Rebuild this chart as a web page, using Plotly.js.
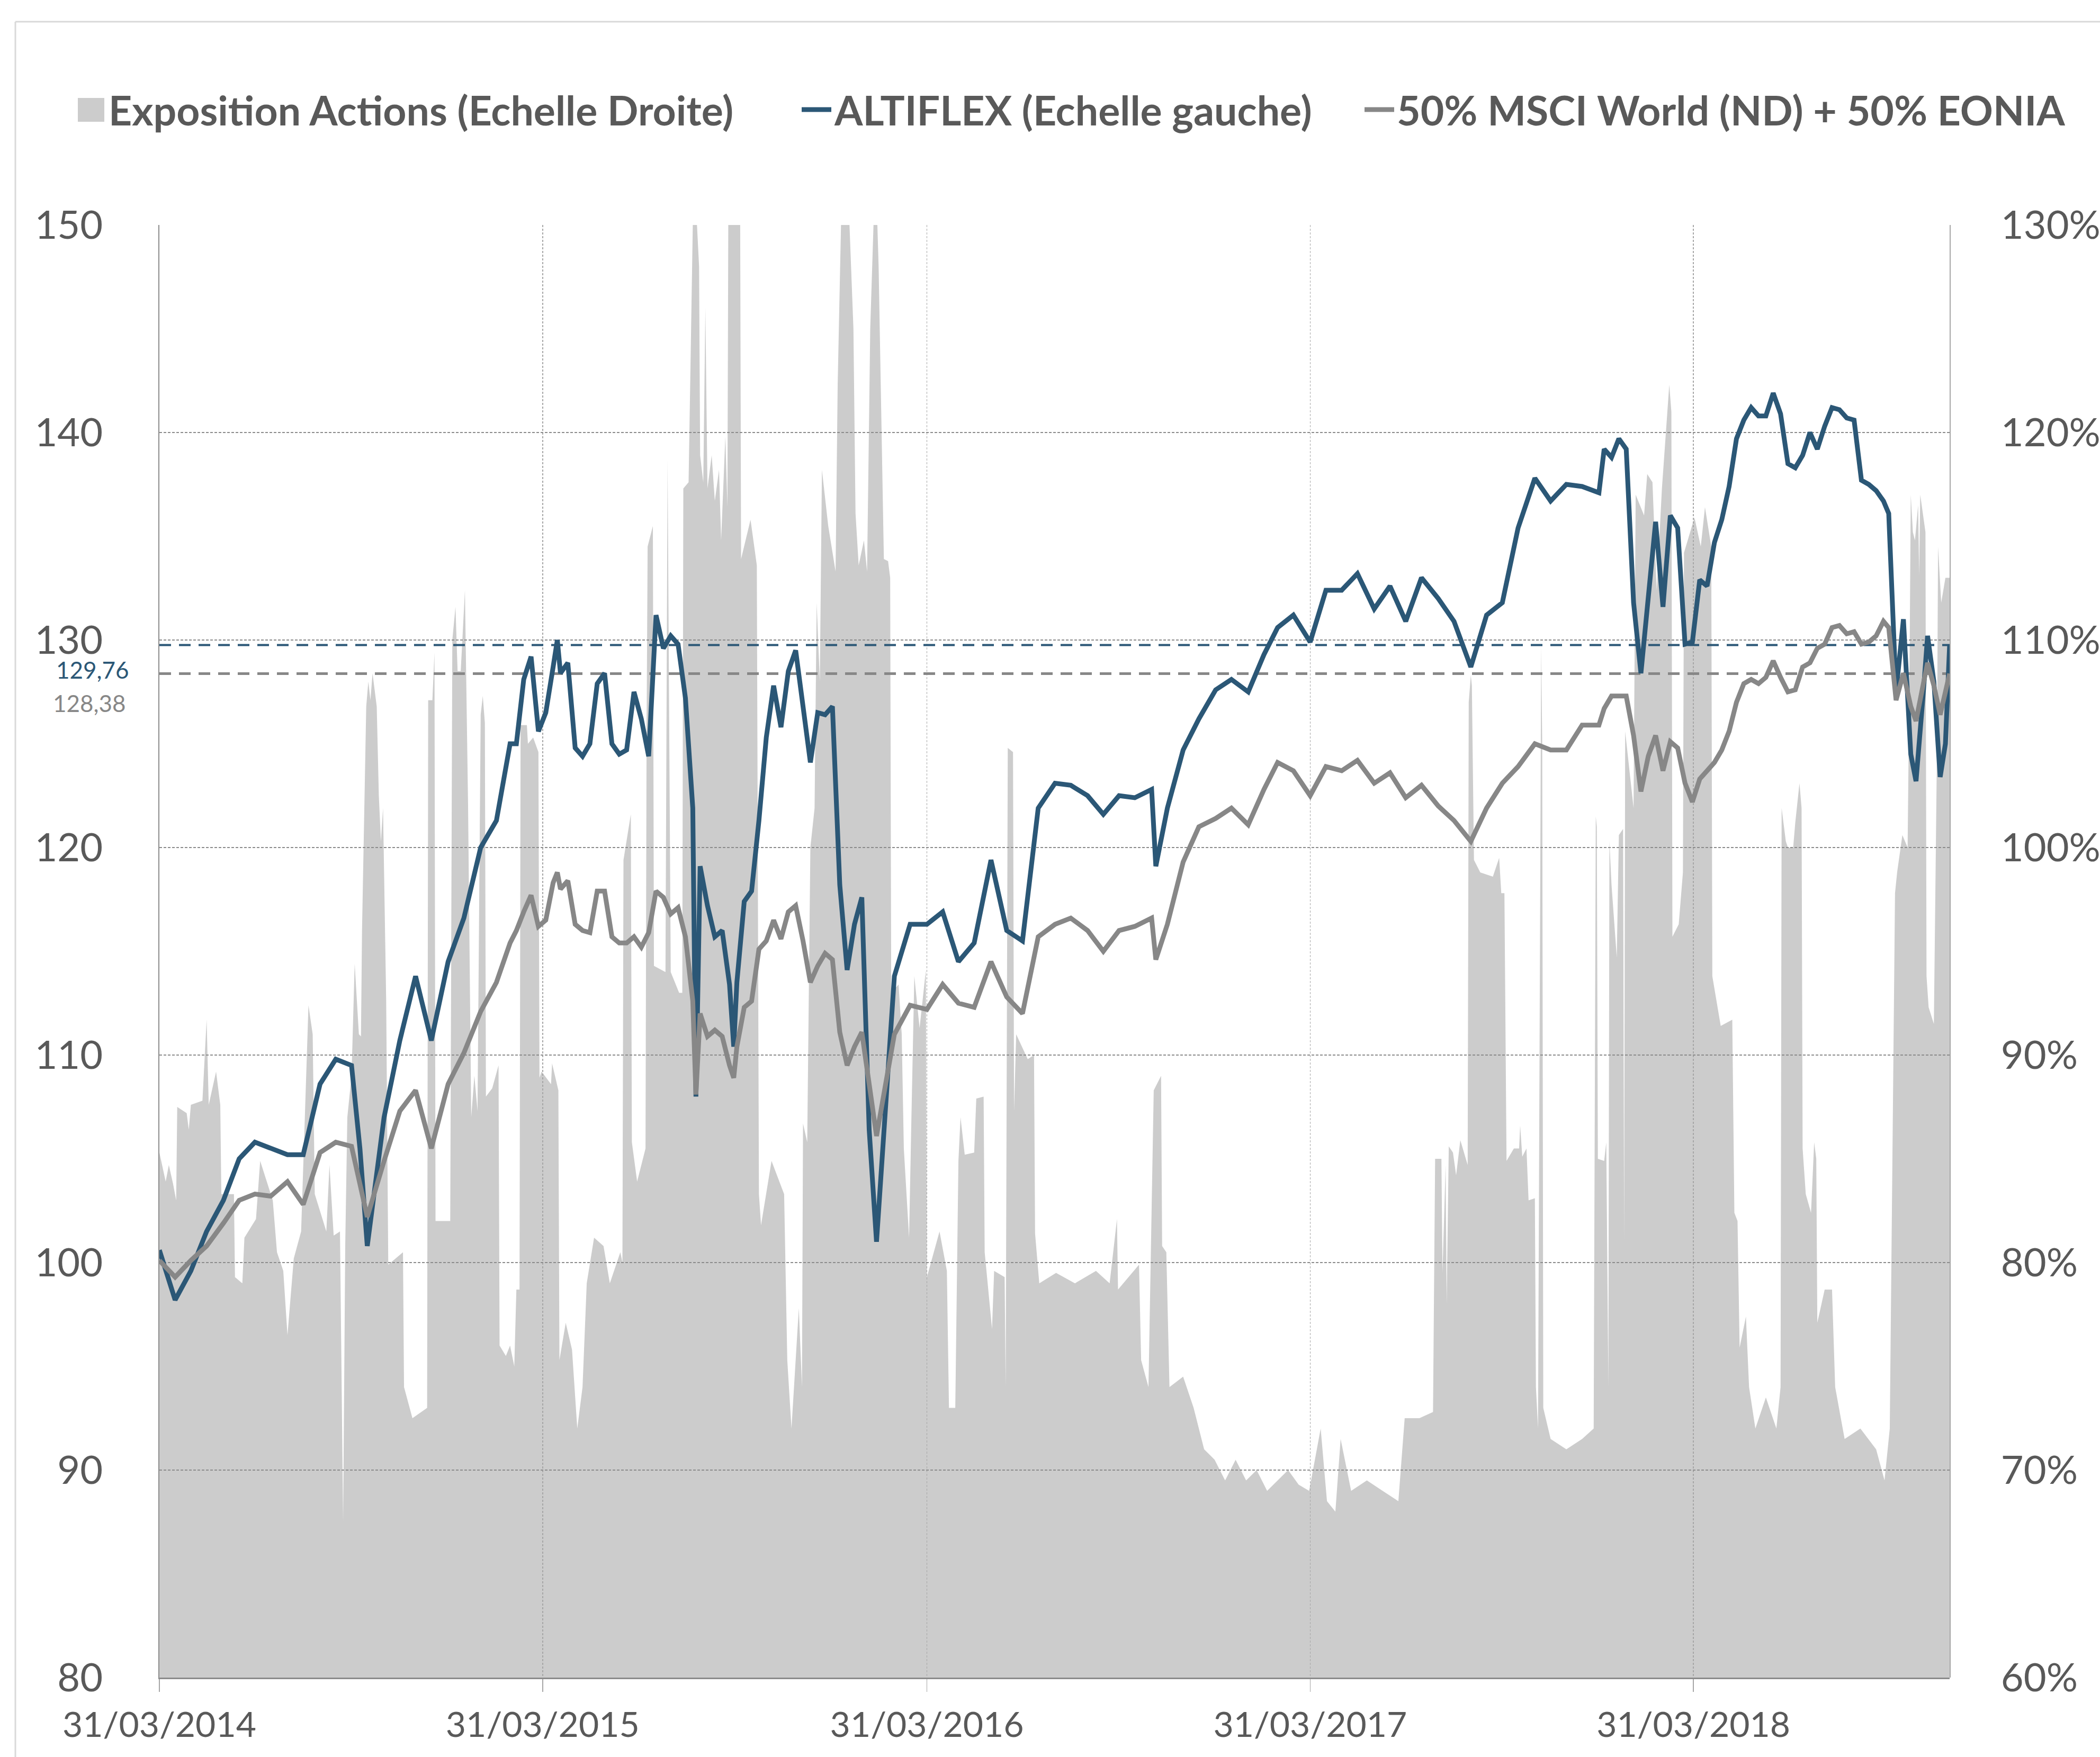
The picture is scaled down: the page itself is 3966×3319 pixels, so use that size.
<!DOCTYPE html>
<html><head><meta charset="utf-8">
<script src="https://cdn.plot.ly/plotly-3.0.1.min.js"></script>
<style>html,body{margin:0;padding:0;background:#fff;} #chart{width:3966px;height:3319px;}</style>
</head><body><div id="chart"></div>
<script>
// ---------------- DATA ----------------
const seriesNames = ['Exposition Actions (Echelle Droite)', 'ALTIFLEX (Echelle gauche)', '50% MSCI World (ND) + 50% EONIA'];

const lineDates = ['2014-03-31','2014-04-15','2014-04-30','2014-05-15','2014-05-31','2014-06-15','2014-06-30','2014-07-15','2014-07-31','2014-08-15','2014-08-31','2014-09-15','2014-09-30','2014-10-08','2014-10-15','2014-10-31','2014-11-15','2014-11-30','2014-12-15','2014-12-31',
'2015-01-15','2015-01-31','2015-02-15','2015-02-28',
'2015-03-06','2015-03-13','2015-03-20','2015-03-27','2015-04-03','2015-04-10','2015-04-14','2015-04-17','2015-04-24','2015-05-01','2015-05-08','2015-05-15','2015-05-22','2015-05-29','2015-06-05','2015-06-12','2015-06-19','2015-06-26','2015-07-03','2015-07-10','2015-07-17','2015-07-24','2015-07-31','2015-08-07','2015-08-14','2015-08-21','2015-08-24','2015-08-28','2015-09-04','2015-09-11','2015-09-18','2015-09-25','2015-09-29','2015-10-02','2015-10-09','2015-10-16','2015-10-23','2015-10-30','2015-11-06','2015-11-13','2015-11-20','2015-11-27','2015-12-04','2015-12-11','2015-12-18','2015-12-25',
'2016-01-01','2016-01-08','2016-01-15','2016-01-22','2016-01-29','2016-02-05','2016-02-12',
'2016-02-29','2016-03-15','2016-03-31','2016-04-15','2016-04-30','2016-05-15','2016-05-31','2016-06-15','2016-06-30','2016-07-15','2016-07-31','2016-08-15','2016-08-31','2016-09-15','2016-09-30','2016-10-15','2016-10-31','2016-11-04','2016-11-15','2016-11-30','2016-12-15','2016-12-31',
'2017-01-15','2017-01-31','2017-02-15','2017-02-28','2017-03-15','2017-03-31','2017-04-15','2017-04-30','2017-05-15','2017-05-31','2017-06-15','2017-06-30','2017-07-15','2017-07-31','2017-08-15','2017-08-31','2017-09-15','2017-09-30','2017-10-15','2017-10-31','2017-11-15','2017-11-30','2017-12-15','2017-12-31',
'2018-01-05','2018-01-12','2018-01-19','2018-01-26','2018-02-02','2018-02-09','2018-02-16','2018-02-23','2018-03-02','2018-03-09','2018-03-16','2018-03-23','2018-03-30','2018-04-06','2018-04-13','2018-04-20','2018-04-27','2018-05-04','2018-05-11','2018-05-18','2018-05-25','2018-06-01','2018-06-08','2018-06-15','2018-06-22','2018-06-29','2018-07-06','2018-07-13','2018-07-20','2018-07-27','2018-08-03','2018-08-10','2018-08-17','2018-08-24','2018-08-31','2018-09-07','2018-09-14','2018-09-21','2018-09-28',
'2018-10-03','2018-10-10','2018-10-17','2018-10-24','2018-10-29','2018-11-05','2018-11-09','2018-11-15','2018-11-21','2018-11-26','2018-11-30'];

const altiflex = [100.6,98.2,99.6,101.5,103.0,105.0,105.8,105.5,105.2,105.2,108.6,109.8,109.5,105.5,100.8,107.0,110.7,113.8,110.7,114.5,
116.6,120.0,121.3,125.0,
125.0,128.1,129.2,125.6,126.5,128.7,130.0,128.4,128.9,124.8,124.4,125.0,127.9,128.4,125.0,124.5,124.7,127.5,126.2,124.4,131.2,129.6,130.2,129.8,127.2,121.9,108.0,119.1,117.2,115.7,116.0,113.4,110.4,113.5,117.4,117.9,121.3,125.3,127.8,125.8,128.5,129.5,127.0,124.1,126.5,126.4,
126.8,118.2,114.1,116.3,117.6,106.4,101.0,
113.8,116.3,116.3,116.9,114.5,115.4,119.4,116.0,115.5,121.9,123.1,123.0,122.5,121.6,122.5,122.4,122.8,119.1,121.9,124.7,126.2,127.6,
128.1,127.5,129.3,130.6,131.2,129.9,132.4,132.4,133.2,131.5,132.6,130.9,133.0,132.0,130.9,128.7,131.2,131.8,135.4,137.8,136.7,137.5,137.4,137.1,
139.2,138.8,139.7,139.2,131.8,128.4,132.1,135.7,131.6,136.0,135.4,129.8,129.9,132.9,132.6,134.7,135.8,137.4,139.7,140.6,141.2,140.8,140.8,141.9,140.9,138.5,138.3,138.9,140.0,139.2,140.3,141.2,141.1,140.7,140.6,137.7,137.5,137.2,136.7,
136.1,127.5,131.0,124.5,123.2,127.5,130.2,128.0,123.4,125.0,129.76];

const benchmark = [100.1,99.3,100.1,100.8,101.9,103.0,103.3,103.2,103.9,102.8,105.3,105.8,105.6,103.9,102.2,104.9,107.3,108.3,105.5,108.6,
110.1,112.1,113.5,115.4,
116.0,116.9,117.7,116.2,116.5,118.3,118.8,118.0,118.4,116.3,116.0,115.9,117.9,117.9,115.7,115.4,115.4,115.7,115.2,115.9,117.9,117.6,116.8,117.1,115.7,112.6,108.1,112.0,110.9,111.2,110.9,109.5,108.9,110.4,112.3,112.6,115.1,115.5,116.5,115.6,116.9,117.2,115.5,113.5,114.3,114.9,
114.6,111.1,109.5,110.4,111.1,108.6,106.1,
111.0,112.4,112.2,113.4,112.5,112.3,114.5,112.8,112.0,115.7,116.3,116.6,116.0,115.0,116.0,116.2,116.6,114.6,116.3,119.3,121.0,121.4,
121.9,121.1,122.8,124.1,123.7,122.5,123.9,123.7,124.2,123.1,123.6,122.4,123.0,122.0,121.3,120.3,121.9,123.1,123.9,125.0,124.7,124.7,125.9,125.9,
126.7,127.3,127.3,127.3,125.4,122.7,124.4,125.4,123.7,125.1,124.8,123.1,122.2,123.3,123.7,124.1,124.7,125.6,127.0,127.9,128.1,127.9,128.2,129.0,128.2,127.5,127.6,128.7,128.9,129.6,129.8,130.6,130.7,130.3,130.4,129.8,129.9,130.2,130.9,
130.6,127.1,128.4,126.8,126.1,127.9,128.9,127.8,126.4,127.5,128.38];

const expoDates = ['2014-03-31','2014-04-06','2014-04-09','2014-04-13','2014-04-16','2014-04-17','2014-04-26','2014-04-28','2014-04-30','2014-05-11','2014-05-15','2014-05-17','2014-05-24','2014-05-28','2014-05-29','2014-06-10','2014-06-11','2014-06-18','2014-06-20','2014-07-01','2014-07-05','2014-07-17','2014-07-21','2014-07-27','2014-07-31','2014-08-06','2014-08-13','2014-08-17','2014-08-20','2014-08-24','2014-08-26','2014-09-06','2014-09-09','2014-09-13','2014-09-19','2014-09-22','2014-09-24','2014-09-26','2014-09-30','2014-10-03','2014-10-07','2014-10-09','2014-10-10','2014-10-14','2014-10-16','2014-10-18','2014-10-20','2014-10-24','2014-10-26','2014-10-28','2014-10-30','2014-11-02','2014-11-04','2014-11-18','2014-11-19','2014-11-27','2014-12-11','2014-12-12','2014-12-16','2014-12-18','2014-12-19',
'2015-01-02','2015-01-04','2015-01-07','2015-01-09','2015-01-12','2015-01-16','2015-01-19','2015-01-22','2015-01-25','2015-01-28','2015-01-31','2015-02-02','2015-02-04','2015-02-05','2015-02-11','2015-02-17','2015-02-18','2015-02-24','2015-02-28','2015-03-04','2015-03-06','2015-03-09','2015-03-10','2015-03-16','2015-03-17','2015-03-22','2015-03-27','2015-03-28','2015-03-30','2015-04-08','2015-04-09','2015-04-15','2015-04-16','2015-04-22','2015-04-28','2015-05-03','2015-05-08','2015-05-12','2015-05-19','2015-05-28','2015-06-03','2015-06-13','2015-06-15','2015-06-16','2015-06-23','2015-06-24','2015-06-29','2015-07-07','2015-07-08','2015-07-09','2015-07-14','2015-07-15','2015-07-26','2015-07-28','2015-07-31','2015-08-08','2015-08-11','2015-08-12','2015-08-17','2015-08-22','2015-08-27','2015-08-28','2015-08-31','2015-09-02','2015-09-04','2015-09-08','2015-09-11','2015-09-15','2015-09-17','2015-09-21','2015-09-23','2015-09-24','2015-10-05','2015-10-06','2015-10-15','2015-10-21','2015-10-23','2015-10-25','2015-11-04','2015-11-16','2015-11-19','2015-11-23','2015-11-30','2015-12-03','2015-12-04','2015-12-08','2015-12-11','2015-12-15','2015-12-17','2015-12-20','2015-12-22','2015-12-28',
'2016-01-04','2016-01-06','2016-01-10','2016-01-15','2016-01-21','2016-01-23','2016-01-26','2016-01-31','2016-02-03','2016-02-06','2016-02-11','2016-02-14','2016-02-19','2016-02-23','2016-02-25','2016-02-26','2016-03-04','2016-03-07','2016-03-09','2016-03-14','2016-03-16','2016-03-19','2016-03-24','2016-03-30','2016-03-31','2016-04-05','2016-04-12','2016-04-19','2016-04-21','2016-04-27','2016-04-30','2016-05-02','2016-05-06','2016-05-15','2016-05-17','2016-05-24','2016-05-25','2016-06-01','2016-06-03','2016-06-13','2016-06-14','2016-06-16','2016-06-21','2016-06-22','2016-06-24','2016-07-05','2016-07-11','2016-07-12','2016-07-16','2016-08-01','2016-08-19','2016-09-08','2016-09-21','2016-09-28','2016-09-29','2016-10-19','2016-10-21','2016-10-28','2016-11-02','2016-11-09','2016-11-10','2016-11-14','2016-11-17','2016-11-30','2016-12-10','2016-12-20','2016-12-30',
'2017-01-09','2017-01-19','2017-01-29','2017-02-08','2017-02-18','2017-02-28','2017-03-10','2017-03-20','2017-03-30','2017-04-10','2017-04-16','2017-04-24','2017-04-29','2017-05-09','2017-05-24','2017-06-08','2017-06-23','2017-06-29','2017-07-13','2017-07-26','2017-07-28','2017-08-03','2017-08-04','2017-08-07','2017-08-08','2017-08-10','2017-08-14','2017-08-17','2017-08-21','2017-08-28','2017-08-29','2017-08-31','2017-09-01','2017-09-03','2017-09-09','2017-09-21','2017-09-27','2017-09-29','2017-10-02','2017-10-04','2017-10-11','2017-10-16','2017-10-17','2017-10-19','2017-10-23','2017-10-25','2017-10-31','2017-11-01','2017-11-03','2017-11-06','2017-11-07','2017-11-08','2017-11-15','2017-11-30','2017-12-15','2017-12-26','2017-12-28','2017-12-29','2017-12-30',
'2018-01-05','2018-01-07','2018-01-09','2018-01-10','2018-01-12','2018-01-17','2018-01-19','2018-01-23','2018-01-24','2018-01-25','2018-02-02','2018-02-04','2018-02-12','2018-02-15','2018-02-20','2018-02-24','2018-03-01','2018-03-08','2018-03-10','2018-03-11','2018-03-17','2018-03-21','2018-03-22','2018-04-01','2018-04-07','2018-04-11','2018-04-17','2018-04-18','2018-04-26','2018-05-07','2018-05-09','2018-05-12','2018-05-14','2018-05-20','2018-05-23','2018-05-29','2018-06-08','2018-06-18','2018-06-22','2018-06-23','2018-06-27','2018-06-29','2018-07-04','2018-07-06','2018-07-10','2018-07-12','2018-07-13','2018-07-16','2018-07-21','2018-07-24','2018-07-26','2018-07-27','2018-08-03','2018-08-10','2018-08-13','2018-08-22','2018-09-06','2018-09-21','2018-09-29','2018-10-04','2018-10-09','2018-10-11','2018-10-16','2018-10-21','2018-10-23','2018-10-24','2018-10-26','2018-10-28','2018-10-31','2018-11-01','2018-11-02','2018-11-07','2018-11-08','2018-11-10','2018-11-15','2018-11-18','2018-11-19','2018-11-22','2018-11-26','2018-11-30'];

const exposition = [85.3,83.9,84.7,83.8,83.0,87.5,87.2,86.4,87.6,87.8,91.7,87.6,89.2,87.6,83.3,83.3,79.3,79.0,81.2,82.1,84.9,83.0,80.5,79.6,76.5,80.2,81.5,88.0,92.4,91.0,83.3,81.5,84.7,81.3,81.5,67.5,80.8,87.0,89.0,94.4,91.0,90.9,96.0,106.8,108.0,107.1,108.4,106.8,102.5,100.3,101.9,92.6,79.9,80.5,74.0,72.5,73.0,107.1,107.1,109.4,82.0,
82.0,110.0,111.6,108.5,108.5,112.4,102.0,87.0,89.0,87.3,106.4,107.3,106.0,88.0,88.4,89.5,76.0,75.5,76.0,75.0,78.7,78.7,105.9,105.9,105.0,105.3,104.6,88.9,89.2,88.6,89.6,88.3,75.3,77.1,75.8,72.0,74.0,79.0,81.2,80.8,79.0,80.5,80.0,99.4,101.6,85.8,83.9,85.5,105.6,114.5,115.5,94.3,94.0,118.7,94.0,93.0,93.0,117.3,117.6,133.0,128.0,118.9,117.6,126.0,117.3,118.9,116.7,118.2,114.8,119.8,116.4,133.0,133.0,113.9,115.8,113.6,83.3,81.8,84.9,83.3,75.3,72.0,77.8,74.0,86.7,85.8,100.0,101.9,111.8,108.0,118.2,115.5,
113.3,122.3,132.0,133.0,125.0,116.1,113.6,114.8,113.3,125.0,133.0,128.0,113.9,113.8,113.0,93.0,93.4,91.0,85.5,81.2,86.4,93.8,91.3,94.1,79.3,80.2,81.5,79.6,73.0,73.0,84.9,87.0,85.2,85.3,87.9,88.0,80.5,76.8,79.6,79.3,74.0,104.8,104.6,87.3,91.0,89.8,90.0,81.4,79.0,79.5,79.0,79.6,79.0,82.1,78.7,79.9,75.3,74.0,88.3,89.0,80.8,80.5,74.0,74.5,73.0,71.0,70.5,
69.5,70.5,69.5,70.0,69.0,69.5,70.0,69.3,69.0,72.0,68.5,68.0,71.5,69.0,69.5,69.0,68.5,72.5,72.5,72.8,85.0,85.0,79.5,84.7,78.0,85.6,85.3,84.2,85.9,84.7,107.0,108.3,107.8,99.4,98.8,98.6,99.5,97.8,97.8,84.9,85.5,85.5,86.6,85.1,85.5,83.0,83.1,74.0,72.0,109.7,105.0,73.0,71.5,71.0,71.5,72.0,101.5,101.0,85.0,
84.9,85.8,74.0,100.3,98.2,94.7,100.6,100.9,81.0,105.6,101.9,117.0,116.0,118.0,117.6,112.4,117.3,122.3,121.0,95.7,96.3,98.8,114.2,115.9,114.5,116.4,114.5,93.8,91.4,91.7,82.4,82.0,75.9,77.4,74.0,72.0,73.5,72.0,74.0,101.9,100.3,100.0,100.0,101.2,103.1,101.9,85.5,83.3,82.4,85.8,85.0,77.1,78.7,78.7,74.0,71.5,72.0,71.0,69.5,72.0,97.8,98.8,100.6,100.0,109.9,117.0,115.2,114.8,116.5,113.1,117.0,115.2,93.8,92.3,91.5,105.0,114.5,111.8,113.0,113.0];

const xTickDates = ['2014-03-31','2015-03-31','2016-03-31','2017-03-31','2018-03-31'];
const xTickLabels = ['31/03/2014','31/03/2015','31/03/2016','31/03/2017','31/03/2018'];
const leftTicks = [80, 90, 100, 110, 120, 130, 140, 150];
const rightTicks = [60, 70, 80, 90, 100, 110, 120, 130];

// ---------------- STYLE / LAYOUT ----------------
const W = 3966, H = 3319;
const M = {l: 301, r: 284, t: 425, b: 150};
const PW = W - M.l - M.r, PH = H - M.t - M.b;
const px = v => (v - M.l) / PW;           // pixel -> paper x
const py = v => (H - M.b - v) / PH;       // pixel -> paper y

const BLUE = '#2b5776', GREY = '#878787', FILL = '#cccccc', TXT = '#595959';
const FONT = 'Lato, "Open Sans", sans-serif';

const xRange = [lineDates[0], lineDates[lineDates.length - 1]];
const lastA = altiflex[altiflex.length - 1];
const lastB = benchmark[benchmark.length - 1];
const fmt = v => v.toFixed(2).replace('.', ',');

const traces = [
  { // exposure area, right scale (own subplot, drawn first)
    x: expoDates, y: exposition, xaxis: 'x', yaxis: 'y',
    type: 'scatter', mode: 'lines', line: {width: 0, color: FILL},
    fill: 'tozeroy', fillcolor: FILL, name: seriesNames[0], showlegend: false, hoverinfo: 'skip'
  },
  { // last-value reference lines
    x: xRange, y: [lastA, lastA], xaxis: 'x2', yaxis: 'y2', type: 'scatter', mode: 'lines',
    line: {color: BLUE, width: 4, dash: '22px,15px'}, showlegend: false, hoverinfo: 'skip'
  },
  {
    x: xRange, y: [lastB, lastB], xaxis: 'x2', yaxis: 'y2', type: 'scatter', mode: 'lines',
    line: {color: GREY, width: 5, dash: '22px,15px'}, showlegend: false, hoverinfo: 'skip'
  },
  {
    x: lineDates, y: altiflex, xaxis: 'x2', yaxis: 'y2', type: 'scatter', mode: 'lines',
    line: {color: BLUE, width: 9, shape: 'linear'}, name: seriesNames[1], showlegend: false
  },
  {
    x: lineDates, y: benchmark, xaxis: 'x2', yaxis: 'y2', type: 'scatter', mode: 'lines',
    line: {color: GREY, width: 9, shape: 'linear'}, name: seriesNames[2], showlegend: false
  }
];

const legY = 207;
const legFont = {family: FONT, size: 77, color: TXT, weight: 'bold'};
const annotations = [
  {xref: 'paper', yref: 'paper', x: px(203), y: py(legY), xanchor: 'left', yanchor: 'middle', showarrow: false,
   text: seriesNames[0], font: legFont},
  {xref: 'paper', yref: 'paper', x: px(1573), y: py(legY), xanchor: 'left', yanchor: 'middle', showarrow: false,
   text: seriesNames[1], font: legFont},
  {xref: 'paper', yref: 'paper', x: px(2636), y: py(legY), xanchor: 'left', yanchor: 'middle', showarrow: false,
   text: seriesNames[2], font: legFont},
  {xref: 'paper', yref: 'y2', x: 0, y: lastA, xanchor: 'right', yanchor: 'middle', xshift: -56, yshift: -47,
   borderpad: 0, showarrow: false, text: fmt(lastA), font: {family: FONT, size: 44, color: BLUE}},
  {xref: 'paper', yref: 'y2', x: 0, y: lastB, xanchor: 'right', yanchor: 'middle', xshift: -62, yshift: -55,
   borderpad: 0, showarrow: false, text: fmt(lastB), font: {family: FONT, size: 44, color: GREY}}
];

const shapes = [
  // legend symbols
  {type: 'rect', xref: 'paper', yref: 'paper', x0: px(147), x1: px(197), y0: py(230), y1: py(185),
   fillcolor: FILL, line: {width: 0}},
  {type: 'line', xref: 'paper', yref: 'paper', x0: px(1514), x1: px(1570), y0: py(legY), y1: py(legY),
   line: {color: BLUE, width: 9}},
  {type: 'line', xref: 'paper', yref: 'paper', x0: px(2577), x1: px(2633), y0: py(legY), y1: py(legY),
   line: {color: GREY, width: 9}},
  // outer chart frame
  {type: 'line', xref: 'paper', yref: 'paper', x0: px(29), x1: px(29), y0: py(3400), y1: py(41),
   line: {color: '#d9d9d9', width: 3}},
  {type: 'line', xref: 'paper', yref: 'paper', x0: px(29), x1: px(4100), y0: py(41), y1: py(41),
   line: {color: '#d9d9d9', width: 3}}
];

const layout = {
  width: W, height: H,
  margin: M,
  paper_bgcolor: '#ffffff', plot_bgcolor: 'rgba(0,0,0,0)',
  showlegend: false,
  font: {family: FONT, color: TXT},
  xaxis: {type: 'date', range: xRange, domain: [0, 1], anchor: 'y', visible: false, fixedrange: true},
  yaxis: {
    range: [60, 130], domain: [0, 1], anchor: 'x', side: 'right',
    tickvals: rightTicks, ticktext: rightTicks.map(v => v + '%'),
    tickfont: {family: FONT, size: 74, color: TXT}, ticks: '', ticklabelstandoff: 80,
    showgrid: false, zeroline: false, showline: true, linecolor: '#a6a6a6', linewidth: 2, fixedrange: true
  },
  xaxis2: {
    type: 'date', range: xRange, domain: [0, 1], anchor: 'y2',
    tickvals: xTickDates, ticktext: xTickLabels,
    tickfont: {family: FONT, size: 66, color: TXT},
    ticks: 'outside', ticklen: 24, tickwidth: 1.5, tickcolor: '#a6a6a6', ticklabelstandoff: 6,
    showgrid: true, gridcolor: '#a6a6a6', gridwidth: 1.5, griddash: '4px,3px',
    showline: true, linecolor: '#8c8c8c', linewidth: 3, zeroline: false, fixedrange: true
  },
  yaxis2: {
    range: [80, 150], domain: [0, 1], anchor: 'x2', side: 'left',
    tickvals: leftTicks, tickfont: {family: FONT, size: 74, color: TXT}, ticks: '', ticklabelstandoff: 90,
    showgrid: true, gridcolor: '#8c8c8c', gridwidth: 2, griddash: '5px,3px',
    showline: true, linecolor: '#8c8c8c', linewidth: 2, zeroline: false, fixedrange: true
  },
  annotations: annotations,
  shapes: shapes
};

Plotly.newPlot('chart', traces, layout, {staticPlot: true, displayModeBar: false});
</script>
</body></html>
